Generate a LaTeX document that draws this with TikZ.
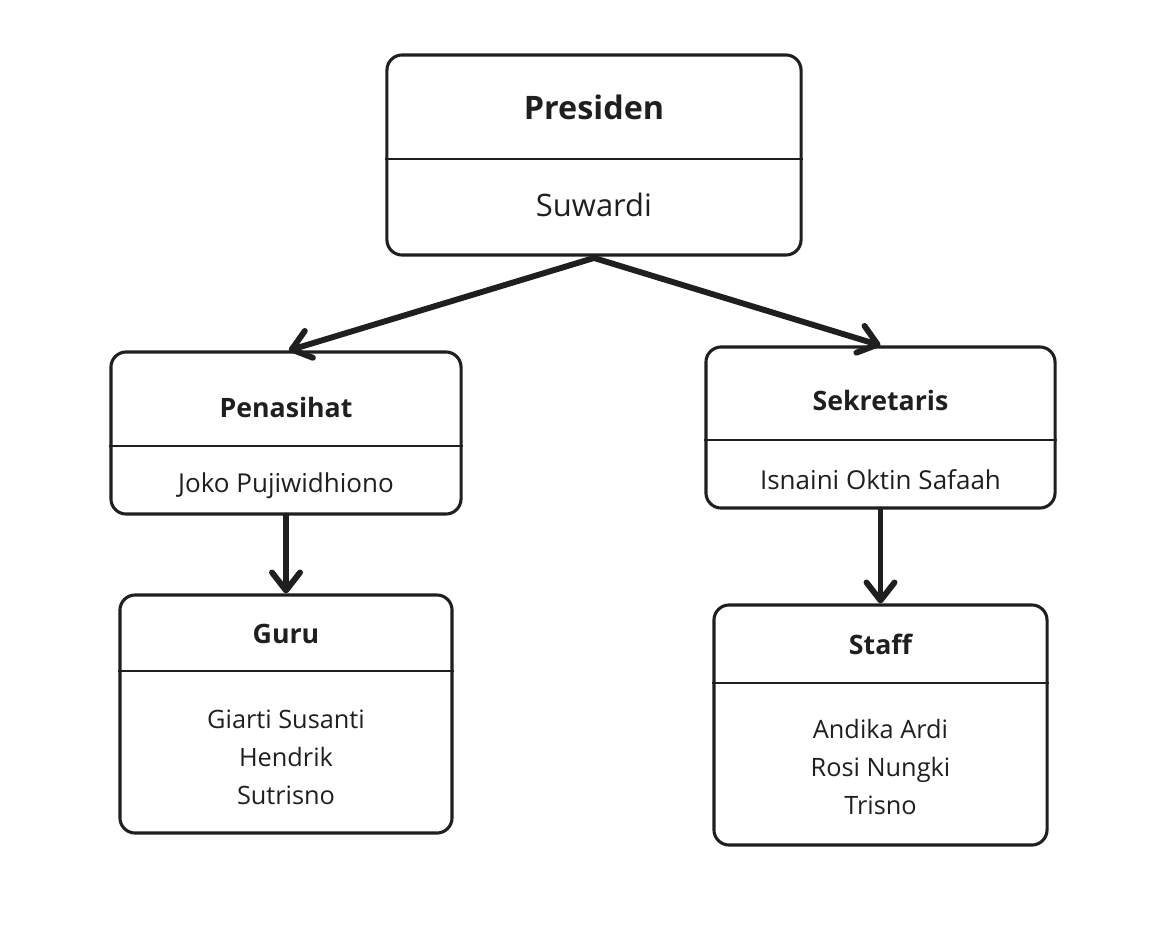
\documentclass[tikz,border=0pt]{standalone}
\usepackage{fontspec}
\setmainfont{Open Sans}
\usetikzlibrary{arrows.meta}
\usetikzlibrary{positioning}
\definecolor{ink}{HTML}{1F1F1F}
\tikzset{unit/.style={draw=ink,line width=2.2pt,rounded corners=0.38cm}}
\tikzset{jabatan/.style={text=ink,font=\bfseries\fontsize{19}{23}\selectfont}}
\tikzset{nama/.style={text=ink,align=center,font=\fontsize{18}{27}\selectfont}}
\newcommand{\sekat}[2]{\draw[ink,line width=2.1pt] (#1.west |- 0,#2) -- (#1.east |- 0,#2);}

\begin{document}
\begin{tikzpicture}[
		x=0.025cm, y=-0.025cm, % one unit = one pixel of the sketch
		garis/.style={-{Straight Barb[length=0.45cm,width=0.7cm,round]}, ink, line width=4.2pt, line cap=round},
		every node/.style={inner sep=0pt}
		]
		
		\useasboundingbox (0,0) rectangle (1160,929);
		
		% boxes
		\node[unit, minimum width=10.35cm, minimum height=5cm] (presiden) at (594,155) {};
		\node[unit, minimum width=8.75cm, minimum height=4.05cm] (penasihat) at (286,433) {};
		\node[unit, minimum width=8.725cm, minimum height=4.025cm] (sekretaris) at (880.5,427.5) {};
		\node[unit, minimum width=8.3cm, minimum height=5.95cm] (guru) at (286,714) {};
		\node[unit, minimum width=8.325cm, minimum height=6cm] (staff) at (880.5,725) {};
		
		% dividers
		\sekat{presiden}{159}
		\sekat{penasihat}{446}
		\sekat{sekretaris}{440}
		\sekat{guru}{671}
		\sekat{staff}{683}
		
		% texts
		\node[jabatan, font=\bfseries\fontsize{23}{27}\selectfont] (presiden-j) at (594,107) {Presiden};
		\node[nama, font=\fontsize{22}{27}\selectfont] (presiden-n) at (594,205) {Suwardi};
		\node[jabatan] (penasihat-j) at (286,407) {Penasihat};
		\node[nama, font=\fontsize{18.5}{27}\selectfont] (penasihat-n) at (286,486) {Joko Pujiwidhiono};
		\node[jabatan] (sekretaris-j) at (880.5,400) {Sekretaris};
		\node[nama, font=\fontsize{18.5}{27}\selectfont] (sekretaris-n) at (880.5,480) {Isnaini Oktin Safaah};
		\node[jabatan] (guru-j) at (286,634) {Guru};
		\node[nama] (guru-n) at (286,757) {Giarti Susanti\\Hendrik\\Sutrisno};
		\node[jabatan] (staff-j) at (880.5,644) {Staff};
		\node[nama] (staff-n) at (880.5,767) {Andika Ardi\\Rosi Nungki\\Trisno};
		
		% links
		\draw[garis] ([yshift=-1pt]presiden.south) -- ([xshift=2pt]penasihat.north);
		\draw[garis] ([yshift=-1pt]presiden.south) -- (sekretaris.north);
		\draw[garis] (penasihat.south) -- (guru.north);
		\draw[garis] (sekretaris.south) -- (staff.north);
\end{tikzpicture}
\end{document}
